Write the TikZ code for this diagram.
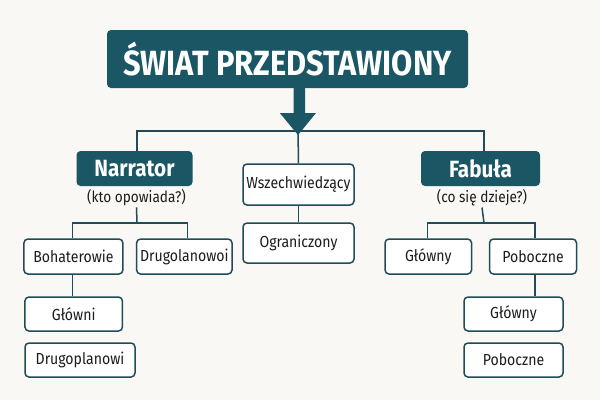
\documentclass[tikz,border=0pt]{standalone}
\usepackage{fontspec}
\setmainfont{Fira Sans}[FakeStretch=0.88]
\definecolor{teal}{HTML}{1A5663}
\definecolor{edge}{HTML}{1F4C58}
\definecolor{bg}{HTML}{F9F8F5}
\definecolor{ink}{HTML}{1C1C1C}
\begin{document}
\begin{tikzpicture}[x=1pt,y=-1pt,
  darkbox/.style={fill=teal,draw=none,rounded corners=4pt,text=white,font=\bfseries,inner sep=0pt},
  leaf/.style={draw=edge,line width=1.5pt,fill=white,rounded corners=4pt,text=ink,font=\fontsize{16}{18}\selectfont,inner sep=0pt},
  note/.style={text=ink,font=\fontsize{15.5}{17}\selectfont,inner sep=1pt},
  conn/.style={draw=edge,line width=1.5pt}]
\fill[bg] (0,0) rectangle (600,400);
\useasboundingbox (0,0) rectangle (600,400);
% title
\node[darkbox,minimum width=361pt,minimum height=58pt,font=\bfseries\fontsize{35}{38}\selectfont] (title) at (287.5,59) {ŚWIAT PRZEDSTAWIONY};
% level 1
\node[darkbox,minimum width=116pt,minimum height=35pt,font=\bfseries\fontsize{23.5}{26}\selectfont] (narr) at (134.5,168.5) {Narrator};
\node[note] (kto) at (136.5,198) {(kto opowiada?)};
\node[darkbox,minimum width=119pt,minimum height=35pt,font=\bfseries\fontsize{23.5}{26}\selectfont] (fab) at (480.5,168.5) {Fabuła};
\node[note] (cod) at (482,198) {(co się dzieje?)};
\node[leaf,minimum width=111pt,minimum height=41pt] (wsz) at (298.5,184.5) {Wszechwiedzący};
\node[leaf,minimum width=111pt,minimum height=40pt] (ogr) at (298.5,243) {Ograniczony};
% left subtree
\node[leaf,minimum width=99pt,minimum height=35pt] (boh) at (73.4,256.5) {Bohaterowie};
\node[leaf,minimum width=95.4pt,minimum height=35pt] (drl) at (184.3,256.5) {Drugolanowoi};
\node[leaf,minimum width=97.5pt,minimum height=34pt] (glw) at (73.7,314) {Główni};
\node[leaf,minimum width=110pt,minimum height=34pt] (drp) at (80,360) {Drugoplanowi};
% right subtree
\node[leaf,minimum width=86.5pt,minimum height=35pt] (gl) at (428.3,256.5) {Główny};
\node[leaf,minimum width=87pt,minimum height=35pt] (pob) at (533,256.5) {Poboczne};
\node[leaf,minimum width=99pt,minimum height=34pt] (gl2) at (513.5,314) {Główny};
\node[leaf,minimum width=99pt,minimum height=34pt] (pob2) at (513.5,360) {Poboczne};
% connectors
\coordinate (hub) at (298,131);
\coordinate (lsplit) at (137,223);
\coordinate (rsplit) at (484,223);
\draw[conn] ([xshift=2.5pt]narr.north) |- (hub) -| ([xshift=3.5pt]fab.north);
\draw[conn] (hub) -- (wsz.north);
\draw[conn] (kto.south) -- (lsplit);
\draw[conn] ([xshift=-0.7pt]boh.north) |- (lsplit) -| ([xshift=3.2pt]drl.north);
\draw[conn] (wsz.south) -- (ogr.north);
\draw[conn] ([xshift=-0.7pt]boh.south) -- ([xshift=-0.7pt]boh.south |- glw.north);
\draw[conn] (cod.south) -- (rsplit);
\draw[conn] ([xshift=-0.8pt]gl.north) |- (rsplit) -| ([xshift=2pt]pob.north);
\draw[conn] ([xshift=2pt]pob.south) -- ([xshift=2pt]pob.south |- gl2.north);
% big arrow
\fill[teal] ([xshift=-4.5pt]title.south -| hub) -- ++(0,25) -- ++(-13.5,0) -- (298,135) -- (316,113) -- (305,113) -- (305,88) -- cycle;
\end{tikzpicture}
\end{document}
